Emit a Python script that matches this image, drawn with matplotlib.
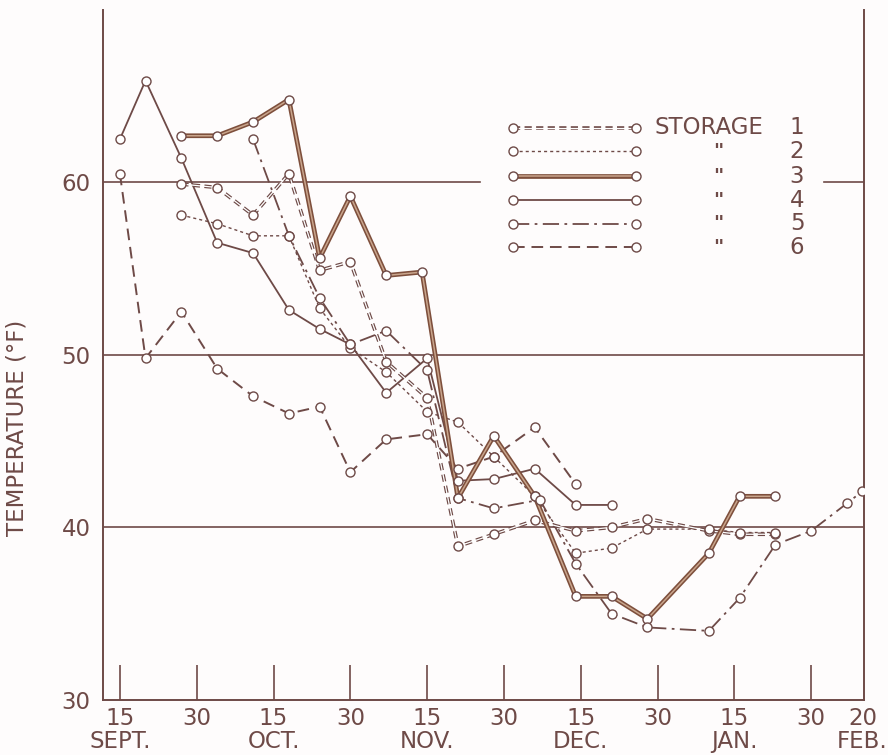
import matplotlib
matplotlib.use('Agg')
import matplotlib.pyplot as plt

plt.rcParams['font.family'] = ['DejaVu Sans']

# ---------------- data (days after 15 Sept; temperature in °F) ----------------
s1_days = [12, 19, 26, 33, 39, 45, 52, 60, 66, 73, 81, 89, 96, 103, 115, 121, 128]
s1_temp = [59.9, 59.7, 58.1, 60.5, 54.9, 55.4, 49.6, 47.5, 38.9, 39.6, 40.4, 39.8, 40.0, 40.5, 39.8, 39.6, 39.6]

s2_days = [12, 19, 26, 33, 39, 45, 52, 60, 66, 73, 81, 89, 96, 103, 115, 121, 128]
s2_temp = [58.1, 57.6, 56.9, 56.9, 52.7, 50.4, 49.0, 46.7, 46.1, 44.1, 41.8, 38.5, 38.8, 39.9, 39.9, 39.7, 39.7]

s3_days = [12, 19, 26, 33, 39, 45, 52, 59, 66, 73, 81, 89, 96, 103, 115, 121, 128]
s3_temp = [62.7, 62.7, 63.5, 64.8, 55.6, 59.2, 54.6, 54.8, 41.7, 45.3, 41.8, 36.0, 36.0, 34.7, 38.5, 41.8, 41.8]

s4_days = [0, 5, 12, 19, 26, 33, 39, 45, 52, 60, 66, 73, 81, 89, 96]
s4_temp = [62.5, 65.9, 61.4, 56.5, 55.9, 52.6, 51.5, 50.6, 47.8, 49.8, 42.7, 42.8, 43.4, 41.3, 41.3]

s5_days = [26, 33, 39, 45, 52, 60, 66, 73, 82, 89, 96, 103, 115, 121, 128, 135, 142, 145]
s5_temp = [62.5, 56.9, 53.3, 50.6, 51.4, 49.1, 41.7, 41.1, 41.6, 37.9, 35.0, 34.2, 34.0, 35.9, 39.0, 39.8, 41.4, 42.1]

s6_days = [0, 5, 12, 19, 26, 33, 39, 45, 52, 60, 66, 73, 81, 89]
s6_temp = [60.5, 49.8, 52.5, 49.2, 47.6, 46.6, 47.0, 43.2, 45.1, 45.4, 43.4, 44.1, 45.8, 42.5]

tick_days = [0, 15, 30, 45, 60, 75, 90, 105, 120, 135, 145]
tick_labels = ['15\nSEPT.', '30', '15\nOCT.', '30', '15\nNOV.', '30',
               '15\nDEC.', '30', '15\nJAN.', '30', '20\nFEB.']
y_ticks = [30, 40, 50, 60]
legend_names = ['STORAGE', '"', '"', '"', '"', '"']
legend_nums = ['1', '2', '3', '4', '5', '6']

# ---------------- style ----------------
INK = '#6e4a47'
BROWN = '#7e4f3c'
TAN = '#c9a58c'
FS = 16.5

fig = plt.figure(figsize=(8.88, 7.55), dpi=100)
fig.patch.set_facecolor('#fefcfc')
ax = fig.add_axes([0.116, 0.073, 0.857, 0.914])
ax.set_facecolor('#fefcfc')
ax.set_xlim(-3.3, 145.3)
ax.set_ylim(30, 70)

# horizontal reference lines
ax.axhline(40, color=INK, lw=1.2, zorder=1)
ax.axhline(50, color=INK, lw=1.2, zorder=1)
ax.axhline(60, xmin=0.0, xmax=0.495, color=INK, lw=1.2, zorder=1)
ax.axhline(60, xmin=0.947, xmax=1.0, color=INK, lw=1.2, zorder=1)

MK = dict(marker='o', markersize=6.5, markerfacecolor='white',
          markeredgecolor=INK, markeredgewidth=1.0, linestyle='none', zorder=6)


def draw_series(x, y, kind, transform=None):
    kw = {} if transform is None else {'transform': transform, 'clip_on': False}
    if kind == 1:
        ax.plot(x, y, color=INK, lw=2.6, linestyle=(0, (2.0, 1.2)), zorder=3, **kw)
        ax.plot(x, y, color='white', lw=0.9, zorder=3.1, **kw)
    elif kind == 2:
        ax.plot(x, y, color=INK, lw=1.0, linestyle=(0, (2.2, 2.2)), zorder=3, **kw)
    elif kind == 3:
        ax.plot(x, y, color=BROWN, lw=3.4, solid_capstyle='round', zorder=4, **kw)
        ax.plot(x, y, color=TAN, lw=1.1, zorder=4.1, **kw)
    elif kind == 4:
        ax.plot(x, y, color=INK, lw=1.3, zorder=3, **kw)
    elif kind == 5:
        ax.plot(x, y, color=INK, lw=1.3, linestyle=(0, (9, 3, 1.5, 3)), zorder=3, **kw)
    elif kind == 6:
        ax.plot(x, y, color=INK, lw=1.4, linestyle=(0, (6, 3.5)), zorder=3, **kw)
    ax.plot(x, y, **MK, **kw)


series = [(s1_days, s1_temp), (s2_days, s2_temp), (s3_days, s3_temp),
          (s4_days, s4_temp), (s5_days, s5_temp), (s6_days, s6_temp)]
for i, (d, t) in enumerate(series):
    draw_series(d, t, i + 1)

# legend (drawn by hand to match the original layout)
rows = [0.829, 0.795, 0.759, 0.724, 0.690, 0.656]
for i, yy in enumerate(rows):
    draw_series([0.539, 0.700], [yy, yy], i + 1, transform=ax.transAxes)
    if i == 0:
        ax.text(0.725, yy, legend_names[i], transform=ax.transAxes, fontsize=FS,
                color=INK, va='center', ha='left')
    else:
        ax.text(0.809, yy, legend_names[i], transform=ax.transAxes, fontsize=14,
                color=INK, va='center', ha='center', fontweight='bold')
    ax.text(0.912, yy, legend_nums[i], transform=ax.transAxes, fontsize=FS,
            color=INK, va='center', ha='center')

# axes styling
for side in ['left', 'right', 'bottom']:
    ax.spines[side].set_color(INK)
    ax.spines[side].set_linewidth(1.4)
ax.spines['top'].set_visible(False)

ax.set_xticks(tick_days)
ax.set_xticklabels(tick_labels, fontsize=FS, color=INK, linespacing=1.0)
ax.tick_params(axis='x', direction='in', length=25, width=1.2, color=INK, pad=5)
ax.xaxis.get_major_ticks()[-1].tick1line.set_visible(False)
ax.set_yticks(y_ticks)
ax.set_yticklabels([str(v) for v in y_ticks], fontsize=FS, color=INK)
ax.tick_params(axis='y', length=0, pad=9)

ax.set_ylabel('TEMPERATURE (°F)', fontsize=FS, color=INK)
ax.yaxis.set_label_coords(-0.098, 0.394)

fig.savefig('out.png', dpi=100, facecolor=fig.get_facecolor())
